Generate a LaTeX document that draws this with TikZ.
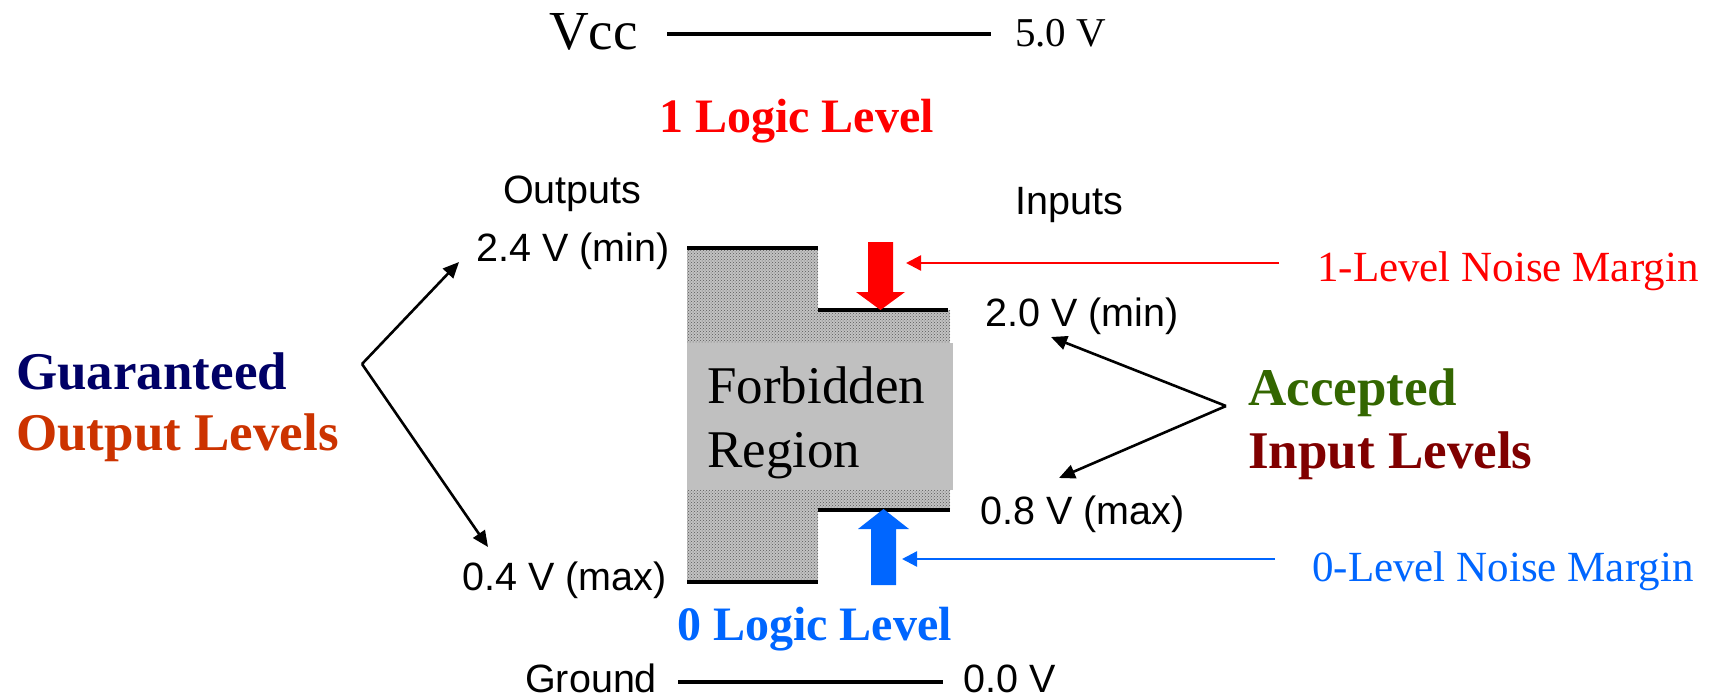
\documentclass[tikz,border=0pt]{standalone}
\usepackage{fontspec}
\setmainfont{Liberation Serif}
\newfontfamily\arialfont{Liberation Sans}
\usetikzlibrary{arrows.meta,patterns}
\definecolor{navyc}{HTML}{000066}
\definecolor{orangec}{HTML}{CC3300}
\definecolor{greenc}{HTML}{336600}
\definecolor{maroonc}{HTML}{800000}
\definecolor{bluec}{HTML}{0066FF}
\definecolor{redc}{HTML}{FF0000}
\definecolor{grayc}{HTML}{C0C0C0}
\tikzset{
  sanslabel/.style={font=\arialfont\fontsize{39.5}{42}\selectfont, inner sep=0pt},
  serifbig/.style={font=\fontsize{55}{58}\selectfont, inner sep=0pt},
  serifmid/.style={font=\fontsize{41}{44}\selectfont, inner sep=0pt},
  boldlabel/.style={font=\bfseries\fontsize{53}{56}\selectfont, inner sep=0pt},
  logiclabel/.style={font=\bfseries\fontsize{48}{52}\selectfont, inner sep=0pt},
  marginlabel/.style={font=\fontsize{43}{46}\selectfont, inner sep=0pt},
  levelbar/.style={line width=4pt, black},
  railline/.style={line width=3.5pt, black},
  stipplebg/.style={fill=black!24},
  stipple/.style={pattern=crosshatch dots, pattern color=black!65},
  thinarrow/.style={line width=2.4pt, -{Triangle[length=15pt,width=15pt]}},
  blackarrow/.style={line width=2.6pt, black, -{Triangle[length=16pt,width=14pt]}},
}
\begin{document}
\begin{tikzpicture}[x=1pt,y=-1pt]
\useasboundingbox (0,0) rectangle (1721,699);

% rails
\node[serifbig, anchor=base west] (vcc) at (549,49) {Vcc};
\coordinate (vccL) at (667,34);
\coordinate (vccR) at (991,34);
\draw[railline] (vccL) -- (vccR);
\node[serifmid, anchor=base west] (v5) at (1015,46) {5.0 V};

\node[sanslabel, anchor=base west] (gnd) at (525,692) {Ground};
\coordinate (gndL) at (678,682);
\coordinate (gndR) at (943,682);
\draw[railline] (gndL) -- (gndR);
\node[sanslabel, anchor=base west] (v0) at (963,692) {0.0 V};

% logic level titles
\node[logiclabel, text=redc, anchor=base west] (one) at (659,132) {1 Logic Level};
\node[logiclabel, text=bluec, anchor=base west] (zero) at (677,640) {0 Logic Level};

\node[sanslabel, anchor=base west] (outs) at (503,203) {Outputs};
\node[sanslabel, anchor=base west] (ins) at (1015,214) {Inputs};

% stippled regions
\fill[stipplebg] (687,248) rectangle (818,582);
\fill[stipple] (687,248) rectangle (818,582);
\fill[stipplebg] (818,310) rectangle (950,510);
\fill[stipple] (818,310) rectangle (950,510);

% forbidden box
\fill[grayc] (687,343) rectangle (953,490);
\node[font=\fontsize{53}{56}\selectfont, inner sep=0pt, anchor=base west] (forb1) at (707,403) {Forbidden};
\node[font=\fontsize{53}{56}\selectfont, inner sep=0pt, anchor=base west] (forb2) at (707,467) {Region};

% level bars
\coordinate (b24L) at (687,248); \coordinate (b24R) at (818,248);
\coordinate (b04L) at (687,582); \coordinate (b04R) at (818,582);
\coordinate (b20L) at (818,310); \coordinate (b20R) at (948,310);
\coordinate (b08L) at (818,510); \coordinate (b08R) at (950,510);
\draw[levelbar] (b24L) -- (b24R);
\draw[levelbar] (b04L) -- (b04R);
\draw[levelbar] (b20L) -- (b20R);
\draw[levelbar] (b08L) -- (b08R);

% voltage labels
\node[sanslabel, anchor=base east] (l24) at (670,261) {2.4 V (min)};
\node[sanslabel, anchor=base east] (l04) at (667,590) {0.4 V (max)};
\node[sanslabel, anchor=base west] (l20) at (985,326) {2.0 V (min)};
\node[sanslabel, anchor=base west] (l08) at (980,524) {0.8 V (max)};

% block arrows
\fill[redc] (868,242) -- (893,242) -- (893,292) -- (905,292) -- (880.5,310)
  -- (856,292) -- (868,292) -- cycle;
\fill[bluec] (871,585) -- (896,585) -- (896,529) -- (909,529) -- (883.5,509)
  -- (858,529) -- (871,529) -- cycle;

% noise margins
\node[marginlabel, text=redc, anchor=base west] (nm1) at (1317,281) {1-Level Noise Margin};
\node[marginlabel, text=bluec, anchor=base west] (nm0) at (1312,581) {0-Level Noise Margin};
\coordinate (nm1s) at (1279,263); \coordinate (nm1t) at (906,263);
\coordinate (nm0s) at (1275,559); \coordinate (nm0t) at (902,559);
\draw[thinarrow, redc] (nm1s) -- (nm1t);
\draw[thinarrow, bluec] (nm0s) -- (nm0t);

% guaranteed output levels
\node[boldlabel, text=navyc, anchor=base west] (guar) at (16,389) {Guaranteed};
\node[boldlabel, text=orangec, anchor=base west] (outlev) at (16,450) {Output Levels};
\coordinate (gv) at (362,364);
\coordinate (gtop) at (459,262);
\coordinate (gbot) at (488,547);
\draw[blackarrow] (gv) -- (gtop);
\draw[blackarrow] (gv) -- (gbot);

% accepted input levels
\node[boldlabel, text=greenc, anchor=base west] (acc) at (1248,405) {Accepted};
\node[boldlabel, text=maroonc, anchor=base west] (inlev) at (1248,468) {Input Levels};
\coordinate (av) at (1226,406);
\coordinate (atop) at (1051,337);
\coordinate (abot) at (1059,478);
\draw[blackarrow] (av) -- (atop);
\draw[blackarrow] (av) -- (abot);
\end{tikzpicture}
\end{document}
